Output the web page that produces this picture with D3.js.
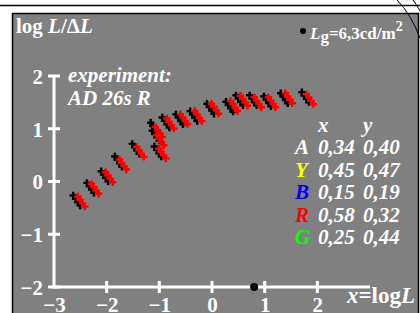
<!DOCTYPE html>
<html><head><meta charset="utf-8">
<script src="https://cdn.jsdelivr.net/npm/d3@7"></script>
<style>body{margin:0;background:#fff}svg{display:block}text{font-family:"Liberation Serif","Times New Roman",serif;font-weight:bold}</style>
</head><body><svg id="c" width="420" height="313"></svg>
<script>
// data
const xLog = [-2.52,-2.26,-1.99,-1.73,-1.40,-1.05,-1.02,-0.98,-0.83,-0.57,-0.30,0.02,0.38,0.57,0.83,1.10,1.42,1.82];
const yBlack = [-0.38,-0.14,0.08,0.36,0.60,1.00,0.85,0.55,1.10,1.16,1.22,1.36,1.40,1.52,1.52,1.50,1.56,1.58];
const yRed   = [-0.36,-0.12,0.10,0.34,0.58,0.96,0.80,0.55,1.12,1.20,1.26,1.40,1.45,1.55,1.52,1.52,1.60,1.58];
const xTicks = [-3,-2,-1,0,1,2];
const yTicks = [-2,-1,0,1,2];
const tableLetters = ["A","Y","B","R","G"];
const tableColors = ["#ffffff","#ffff00","#0000ff","#ff0000","#00ff00"];
const tableX = ["0,34","0,45","0,15","0,58","0,25"];
const tableY = ["0,40","0,47","0,19","0,32","0,44"];
const adaptLog = 0.8;

const FS = 21;
const svg = d3.select("#c");
const x = d3.scaleLinear().domain([-3,3]).range([54,370]);
const y = d3.scaleLinear().domain([-2,2]).range([287,76]);

// top line, panel and arcs
svg.append("line").attr("x1",0).attr("x2",420).attr("y1",5.5).attr("y2",5.5).attr("stroke","#000").attr("stroke-width",1.5);
svg.append("rect").attr("x",12.5).attr("y",13.5).attr("width",406).attr("height",310).attr("fill","#808080").attr("stroke","#000").attr("stroke-width",1.5);
svg.append("path").attr("d","M397,0 Q411,14 420,38").attr("fill","none").attr("stroke","#000").attr("stroke-width",1);
svg.append("path").attr("d","M413,0 Q417,5 420,11").attr("fill","none").attr("stroke","#000").attr("stroke-width",1);

// axes
const fmt = d=>d<0?"\u2212"+(-d):d;
const gx = svg.append("g").attr("transform","translate(0,287)")
  .call(d3.axisBottom(x).tickValues(xTicks).tickSize(0).tickFormat(fmt));
gx.select(".domain").remove();
gx.selectAll("text").attr("fill","#fff").attr("font-size",FS).attr("dy",0).attr("y",25);
svg.append("line").attr("x1",x(-3)-1).attr("x2",x(3)).attr("y1",287).attr("y2",287).attr("stroke","#fff").attr("stroke-width",3);
svg.selectAll(".xt").data(xTicks.slice(1)).enter().append("line").attr("x1",d=>x(d)).attr("x2",d=>x(d)).attr("y1",281).attr("y2",293).attr("stroke","#fff").attr("stroke-width",3);

const gy = svg.append("g").attr("transform","translate(54,0)")
  .call(d3.axisLeft(y).tickValues(yTicks).tickSize(0).tickFormat(fmt));
gy.select(".domain").remove();
gy.selectAll("text").attr("fill","#fff").attr("font-size",FS).attr("x",-11).attr("dy","0.35em");
svg.append("line").attr("x1",54).attr("x2",54).attr("y1",288.5).attr("y2",y(2)).attr("stroke","#fff").attr("stroke-width",3);
svg.selectAll(".yt").data(yTicks).enter().append("line").attr("x1",48).attr("x2",60).attr("y1",d=>y(d)).attr("y2",d=>y(d)).attr("stroke","#fff").attr("stroke-width",3);

// markers
const offs = [[-3.5,-5],[-1.2,-1.7],[1.2,1.7],[3.5,5]];
const cross = d3.symbol().type(d3.symbolCross).size(30);
function marks(vals, color, dx, dy){
  const g = svg.append("g");
  vals.forEach((v,i)=>{
    offs.forEach(o=>{
      g.append("path").attr("d",cross()).attr("fill",color)
       .attr("transform",`translate(${x(xLog[i])+dx+o[0]},${y(v)+dy+o[1]})`);
    });
  });
}
marks(yBlack,"#000",-2.5,-1);
marks(yRed,"#ff0000",2,1);

// adaptation point
svg.append("circle").attr("cx",x(adaptLog)).attr("cy",287).attr("r",4).attr("fill","#000");

// texts
const t1 = svg.append("text").attr("x",16).attr("y",33).attr("font-size",FS).attr("fill","#fff");
t1.append("tspan").text("log ");
t1.append("tspan").attr("font-style","italic").text("L");
t1.append("tspan").text("/\u0394");
t1.append("tspan").attr("font-style","italic").text("L");

svg.append("circle").attr("cx",303).attr("cy",31).attr("r",3).attr("fill","#000");
const t2 = svg.append("text").attr("x",310).attr("y",39).attr("font-size",17).attr("fill","#fff");
t2.append("tspan").attr("font-style","italic").text("L");
t2.append("tspan").attr("dy",3).text("g");
t2.append("tspan").attr("dy",-3).text("=6,3cd/m");
t2.append("tspan").attr("dy",-8).attr("font-size",14).text("2");

svg.append("text").attr("x",68).attr("y",82).attr("font-size",FS).attr("font-style","italic").attr("fill","#fff").text("experiment:");
svg.append("text").attr("x",68).attr("y",105).attr("font-size",FS).attr("font-style","italic").attr("fill","#fff").text("AD 26s R");

svg.append("text").attr("x",318).attr("y",132).attr("font-size",FS).attr("font-style","italic").attr("fill","#fff").text("x");
svg.append("text").attr("x",363).attr("y",132).attr("font-size",FS).attr("font-style","italic").attr("fill","#fff").text("y");
const rowY = d3.scaleLinear().domain([0,4]).range([154,244]);
tableLetters.forEach((l,i)=>{
  svg.append("text").attr("x",295).attr("y",rowY(i)).attr("font-size",FS).attr("font-style","italic").attr("fill",tableColors[i]).text(l);
  svg.append("text").attr("x",318).attr("y",rowY(i)).attr("font-size",FS).attr("font-style","italic").attr("fill","#fff").text(tableX[i]);
  svg.append("text").attr("x",363).attr("y",rowY(i)).attr("font-size",FS).attr("font-style","italic").attr("fill","#fff").text(tableY[i]);
});

const t3 = svg.append("text").attr("x",347).attr("y",303).attr("font-size",23).attr("fill","#fff");
t3.append("tspan").attr("font-style","italic").text("x");
t3.append("tspan").text("=log");
t3.append("tspan").attr("font-style","italic").text("L");
</script></body></html>
